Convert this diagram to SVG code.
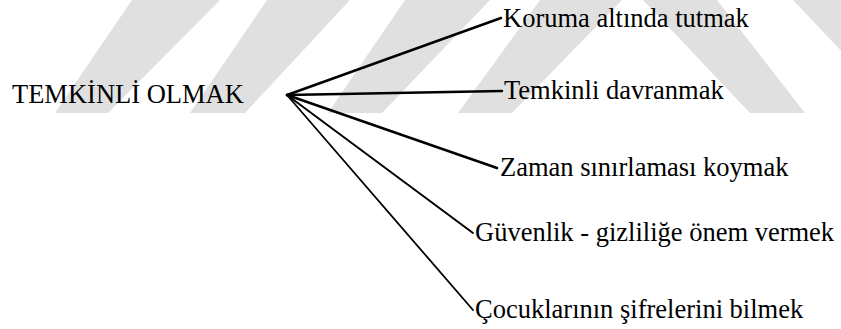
<svg xmlns="http://www.w3.org/2000/svg" width="841" height="329" viewBox="0 0 841 329">
<style>
.t{font-family:'Liberation Serif','Times New Roman',serif;font-size:26.5px;fill:#000}
.c{stroke:#000;fill:none;stroke-linecap:round}
.wm{fill:#e0e0e0}
</style>
<rect width="841" height="329" fill="#fff"/>
<g id="watermark">
<polygon class="wm" points="132,0 220,0 108,113 55,113"/>
<polygon class="wm" points="267,0 350,0 245,113 190,113"/>
<polygon class="wm" points="405,0 490,0 382,113 328,113"/>
<polygon class="wm" points="540,0 622,0 512,113 458,113"/>
<polygon class="wm" points="643,0 717,0 805,113 750,113"/>
<polygon class="wm" points="793,0 880,0 960,113 900,113"/>
</g>
<g id="connectors">
<line class="c" x1="287" y1="95" x2="501" y2="18" stroke-width="2.5"/>
<line class="c" x1="287" y1="95" x2="502" y2="91" stroke-width="2.5"/>
<line class="c" x1="287" y1="95" x2="497" y2="168" stroke-width="2.5"/>
<line class="c" x1="287" y1="95" x2="473" y2="233" stroke-width="2"/>
<line class="c" x1="287" y1="95" x2="473" y2="310" stroke-width="1.8"/>
</g>
<g id="root"><text class="t" x="12" y="103">TEMKİNLİ OLMAK</text></g>
<g id="n1"><text class="t" x="503" y="27">Koruma altında tutmak</text></g>
<g id="n2"><text class="t" x="504" y="99">Temkinli davranmak</text></g>
<g id="n3"><text class="t" x="500" y="176">Zaman sınırlaması koymak</text></g>
<g id="n4"><text class="t" x="475" y="241">Güvenlik - gizliliğe önem vermek</text></g>
<g id="n5"><text class="t" x="475" y="318">Çocuklarının şifrelerini bilmek</text></g>
</svg>
